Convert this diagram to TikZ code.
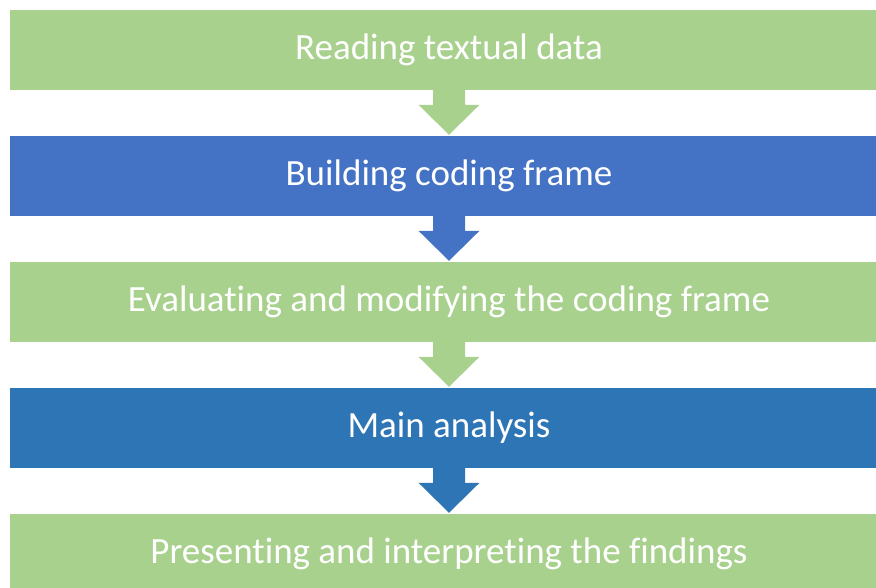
\documentclass[tikz,border=0pt]{standalone}
\usepackage{fontspec}
\setmainfont{Carlito}[Ligatures=NoCommon]
\usetikzlibrary{calc}
\definecolor{stepgreen}{HTML}{A9D18E}
\definecolor{stepblue}{HTML}{4472C4}
\definecolor{stepdark}{HTML}{2E75B6}

\begin{document}
\begin{tikzpicture}[x=1pt, y=-1pt,
    stepbox/.style={fill=#1, text=white, minimum width=878pt, minimum height=80pt, inner sep=0pt, font=\fontsize{37}{42}\selectfont}]
        \clip (0,0) rectangle (876,588);
        \def\shaft{16}
        \def\head{30.5}
        \def\headlen{31}
        
        \node[stepbox=stepgreen] (read) at (449,50) {Reading textual data};
        \node[stepbox=stepblue] (build) at (449,176) {Building coding frame};
        \node[stepbox=stepgreen] (eval) at (449,302) {Evaluating and modifying the coding frame};
        \node[stepbox=stepdark] (main) at (449,428) {Main analysis};
        \node[stepbox=stepgreen] (pres) at (449,554) {Presenting and interpreting the findings};
        
        % block arrows between the steps
        \foreach \a/\b/\c in {read/build/stepgreen, build/eval/stepblue, eval/main/stepgreen, main/pres/stepdark}
            \fill[\c] ($(\a.south)+(-\shaft,0)$) -- ($(\a.south)+(\shaft,0)$) -- ($(\b.north)+(\shaft,-\headlen)$) -- ($(\b.north)+(\head,-\headlen)$) -- ($(\b.north)+(0,-1)$) -- ($(\b.north)+(-\head,-\headlen)$) -- ($(\b.north)+(-\shaft,-\headlen)$) -- cycle;
        
    \end{tikzpicture}
\end{document}
